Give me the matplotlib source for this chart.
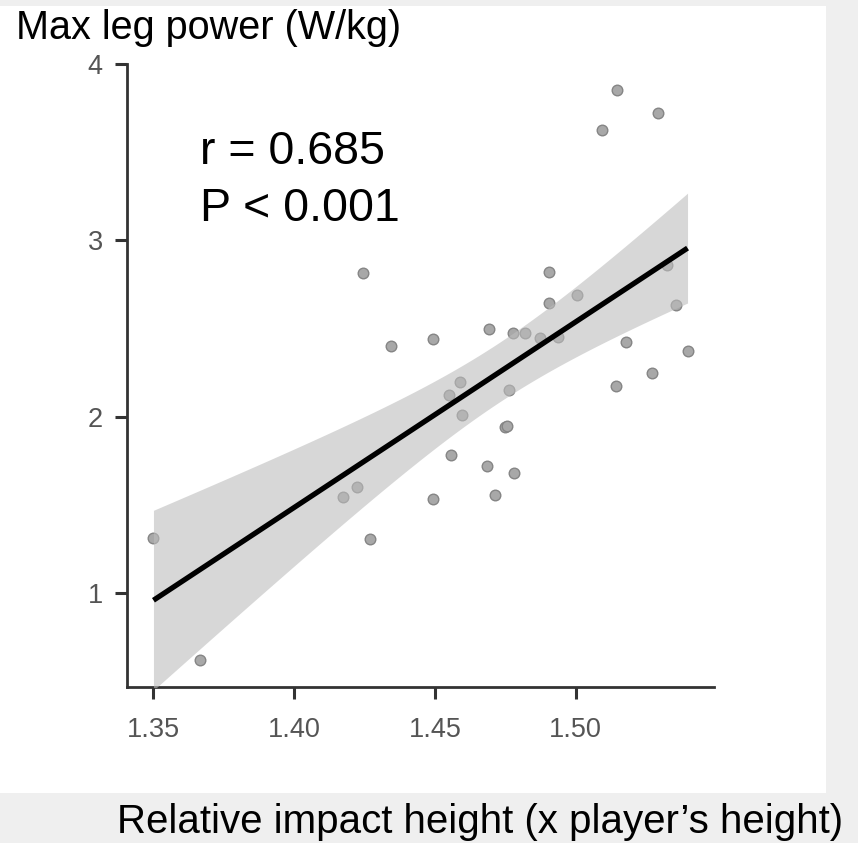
import matplotlib
matplotlib.use("Agg")
import matplotlib.pyplot as plt
import numpy as np
from matplotlib.patches import Rectangle

# data
impact_height = [1.3500, 1.3664, 1.4175, 1.4225, 1.4271, 1.4243, 1.4343, 1.4495,
                 1.4495, 1.4549, 1.4559, 1.4591, 1.4598, 1.4691, 1.4684, 1.4712,
                 1.4751, 1.4758, 1.4762, 1.4776, 1.4783, 1.4819, 1.4872, 1.4904,
                 1.4904, 1.4936, 1.5004, 1.5093, 1.5146, 1.5142, 1.5181, 1.5270,
                 1.5292, 1.5324, 1.5356, 1.5398]
leg_power = [1.314, 0.624, 1.548, 1.605, 1.308, 2.814, 2.403, 2.443,
             1.536, 2.124, 1.787, 2.198, 2.010, 2.500, 1.724, 1.559,
             1.941, 1.947, 2.152, 2.477, 1.685, 2.477, 2.449, 2.820,
             2.643, 2.455, 2.689, 3.624, 3.852, 2.175, 2.426, 2.249,
             3.721, 2.860, 2.637, 2.375]
x_ticks = [1.35, 1.40, 1.45, 1.50]
x_tick_labels = ["1.35", "1.40", "1.45", "1.50"]
y_ticks = [1, 2, 3, 4]
stats_lines = ["r = 0.685", "P < 0.001"]
y_title = "Max leg power (W/kg)"
x_title = "Relative impact height (x player\u2019s height)"

x = np.array(impact_height)
y = np.array(leg_power)

# linear fit + 95% confidence band
n = len(x)
slope, intercept = np.polyfit(x, y, 1)
resid = y - (intercept + slope * x)
s_err = np.sqrt(np.sum(resid ** 2) / (n - 2))
t_crit = 2.032  # t(0.975, df=34)
xs = np.linspace(x.min(), x.max(), 200)
ys = intercept + slope * xs
half = t_crit * s_err * np.sqrt(1 / n + (xs - x.mean()) ** 2 / np.sum((x - x.mean()) ** 2))

W, H = 858, 843
fig = plt.figure(figsize=(W / 100, H / 100), dpi=100, facecolor="#efefef")
fig.patches.append(Rectangle((0, 1 - 793 / H), 826 / W, (793 - 6) / H,
                             transform=fig.transFigure, facecolor="white",
                             edgecolor="none", zorder=-10))

ax = fig.add_axes([127 / W, 1 - 687 / H, (714 - 127) / W, (687 - 64) / H])
ax.set_zorder(5)
ax.set_facecolor("none")

ax.scatter(x, y, s=58, facecolor="#a8a8a8", edgecolor="#858585", linewidth=1.0, zorder=2)
ax.fill_between(xs, ys - half, ys + half, color="#bdbdbd", alpha=0.6, linewidth=0, zorder=3)
ax.plot(xs, ys, color="black", linewidth=3.8, solid_capstyle="butt", zorder=4)

ax.set_xlim(1.3406, 1.5492)
ax.set_ylim(0.47, 4.0)
ax.set_xticks(x_ticks)
ax.set_xticklabels(x_tick_labels)
ax.set_yticks(y_ticks)

for side in ["top", "right"]:
    ax.spines[side].set_visible(False)
for side in ["left", "bottom"]:
    ax.spines[side].set_color("#333333")
    ax.spines[side].set_linewidth(2.0)
ax.tick_params(axis="both", colors="#333333", width=2.2, length=8.5,
               labelcolor="#555555", labelsize=19.5)
ax.tick_params(axis="x", pad=13)
ax.tick_params(axis="y", pad=9)
for lab in ax.get_xticklabels() + ax.get_yticklabels():
    lab.set_family("Liberation Sans")

fig.text(16 / W, 1 - 39 / H, y_title, fontsize=28.5, family="Liberation Sans",
         va="baseline", ha="left", color="black", zorder=6)
fig.text(117 / W, 1 - 833 / H, x_title, fontsize=29, family="Liberation Sans",
         va="baseline", ha="left", color="black", zorder=6)
fig.text(200 / W, 1 - 164 / H, stats_lines[0], fontsize=33.5, family="Liberation Sans",
         va="baseline", ha="left", color="black", zorder=6)
fig.text(200 / W, 1 - 221 / H, stats_lines[1], fontsize=33.5, family="Liberation Sans",
         va="baseline", ha="left", color="black", zorder=6)

fig.savefig("out.png", dpi=100, facecolor=fig.get_facecolor())
